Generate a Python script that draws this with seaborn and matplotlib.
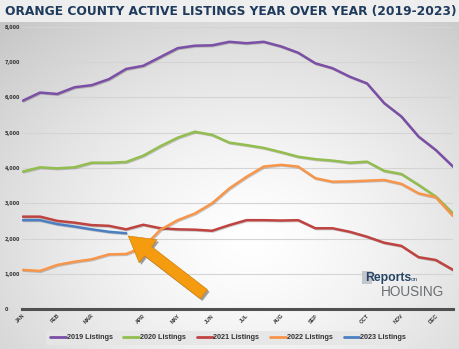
import numpy as np
import pandas as pd
import matplotlib
matplotlib.use("Agg")
import matplotlib.pyplot as plt
import matplotlib.patheffects as pe
from matplotlib.patches import FancyArrowPatch, Rectangle
from matplotlib.ticker import FuncFormatter
import seaborn as sns

# ---------------- data ----------------
periods = list(range(26))  # bi-weekly reporting periods
month_labels = ["JAN", "FEB", "MAR", "APR", "MAY", "JUN", "JUL", "AUG", "SEP", "OCT", "NOV", "DEC"]
month_periods = [0, 2, 4, 7, 9, 11, 13, 15, 17, 20, 22, 24]

listings_2019 = [5910, 6140, 6100, 6290, 6350, 6520, 6810, 6900, 7150, 7400, 7470, 7480, 7580,
                 7540, 7580, 7450, 7270, 6970, 6830, 6590, 6400, 5840, 5460, 4890, 4510, 4040]
listings_2020 = [3900, 4020, 3990, 4020, 4150, 4150, 4170, 4350, 4620, 4860, 5030, 4940, 4720,
                 4650, 4570, 4450, 4320, 4250, 4210, 4150, 4180, 3920, 3830, 3520, 3190, 2710]
listings_2021 = [2620, 2620, 2500, 2450, 2380, 2360, 2260, 2390, 2290, 2260, 2250, 2220, 2380,
                 2520, 2520, 2510, 2520, 2290, 2290, 2190, 2050, 1880, 1790, 1470, 1390, 1110]
listings_2022 = [1110, 1080, 1250, 1340, 1410, 1550, 1560, 1750, 2250, 2520, 2710, 3000, 3420,
                 3750, 4040, 4090, 4040, 3710, 3610, 3620, 3640, 3660, 3550, 3280, 3170, 2640]
listings_2023 = [2520, 2520, 2410, 2340, 2260, 2190, 2150]

series_names = ["2019 Listings", "2020 Listings", "2021 Listings", "2022 Listings", "2023 Listings"]
series_values = [listings_2019, listings_2020, listings_2021, listings_2022, listings_2023]
series_colors = ["#7B4FA6", "#93BE4F", "#BF4340", "#F7964A", "#4B7FC2"]

title_text = "ORANGE COUNTY ACTIVE LISTINGS YEAR OVER YEAR (2019-2023)"

rows = []
for name, vals in zip(series_names, series_values):
    for p, v in zip(periods, vals):
        rows.append({"period": p, "listings": v, "series": name})
df = pd.DataFrame(rows)

# ---------------- figure ----------------
sns.set_theme(style="white")
plt.rcParams["font.family"] = ["DejaVu Sans"]

W, H = 460, 349
fig = plt.figure(figsize=(W / 100, H / 100), dpi=100)

# background: title band + radial gradient
bg = fig.add_axes([0, 0, 1, 1], zorder=-10)
yy, xx = np.mgrid[0:H, 0:W]
d = np.sqrt(((xx - 250) / 1.25) ** 2 + (yy - 240) ** 2)
val = 1.0 - 0.23 * np.clip(d / 300, 0, 1.3) ** 1.4
img = np.dstack([val, val, val])
band = yy < 22
img[band] = np.array([0.935, 0.935, 0.935])
bg.imshow(img, extent=[0, W, H, 0], aspect="auto", interpolation="bilinear")
bg.set_xlim(0, W)
bg.set_ylim(H, 0)
bg.axis("off")

ax = fig.add_axes([22 / W, 1 - 309 / H, 431 / W, 282 / H])
ax.set_facecolor("none")

sns.lineplot(data=df, x="period", y="listings", hue="series", hue_order=series_names,
             palette=series_colors, linewidth=1.8, ax=ax, legend=True)
for line in ax.get_lines():
    line.set_path_effects([pe.SimpleLineShadow(offset=(0.6, -0.6), shadow_color="k", alpha=0.22),
                           pe.Normal()])
    line.set_solid_joinstyle("round")

ax.set_xlim(-0.05, 25.0)
ax.set_ylim(0, 8000)
ax.set_yticks(range(0, 8001, 1000))
ax.yaxis.set_major_formatter(FuncFormatter(lambda v, p: f"{int(v):,}"))
ax.grid(axis="y", color="#d4d4d4", linewidth=0.8)
ax.grid(axis="x", visible=False)
for s in ["top", "right", "left"]:
    ax.spines[s].set_visible(False)
ax.spines["bottom"].set_color("#505050")
ax.spines["bottom"].set_linewidth(2.2)
ax.spines["bottom"].set_zorder(5)

ax.tick_params(axis="both", length=0)
ax.tick_params(axis="y", pad=12.5, labelsize=3.5, labelcolor="#333333")
for lab in ax.get_yticklabels():
    lab.set_ha("left")
    lab.set_fontweight("bold")

ax.set_xticks(month_periods)
ax.set_xticklabels(month_labels, rotation=45, ha="right", rotation_mode="anchor",
                   fontsize=3.8, fontweight="bold", color="#333333",
                   family=["Liberation Sans", "DejaVu Sans"])
ax.tick_params(axis="x", pad=3)
ax.set_xlabel("")
ax.set_ylabel("")

# legend
handles, labels = ax.get_legend_handles_labels()
ax.get_legend().remove()
leg = fig.legend(handles, labels, loc="center", bbox_to_anchor=(228 / W, 1 - 337.7 / H),
                 ncol=5, frameon=True, handlelength=2.2, handletextpad=0.1,
                 columnspacing=1.5, borderpad=0.5, fancybox=False,
                 prop={"family": ["Liberation Sans", "DejaVu Sans"], "weight": "bold", "size": 5.2})
leg.get_frame().set_facecolor("#e6e6e6")
leg.get_frame().set_edgecolor("none")
leg.get_frame().set_alpha(0.9)
for t in leg.get_texts():
    t.set_color("#333333")
for h in leg.get_lines():
    h.set_linewidth(2.0)
    h.set_path_effects([])

# title
fig.text(231 / W, 1 - 11 / H, title_text, ha="center", va="center", fontsize=8.8,
         fontweight="bold", color="#1E3A5C")

# annotation arrow pointing to the 2023 series
arrow = FancyArrowPatch((10.65, 370), (6.0, 2120), transform=ax.transData,
                        arrowstyle="simple,head_length=0.9,head_width=1.05,tail_width=0.42",
                        mutation_scale=20, facecolor="#F59B10", edgecolor="#c77a05",
                        linewidth=0.4, zorder=6, clip_on=False)
arrow.set_path_effects([pe.SimplePatchShadow(offset=(1.5, -1.5), shadow_rgbFace="k", alpha=0.4),
                        pe.Normal()])
ax.add_patch(arrow)

# logo
fig.patches.append(Rectangle((362 / W, 1 - 284 / H), 10 / W, 13 / H, transform=fig.transFigure,
                             facecolor="#c3c6ca", edgecolor="none", zorder=3))
fig.text(365 / W, 1 - 277.5 / H, "Reports", ha="left", va="center", fontsize=8.8,
         color="#264566", fontweight="bold", family=["Liberation Sans", "DejaVu Sans"], zorder=4)
fig.text(411 / W, 1 - 279.5 / H, "on", ha="left", va="center", fontsize=4.6,
         color="#264566", family=["Liberation Sans", "DejaVu Sans"], zorder=4)
fig.text(381 / W, 1 - 292 / H, "HOUSING", ha="left", va="center", fontsize=9.8,
         color="#6b6e72", family=["Liberation Sans", "DejaVu Sans"], zorder=4)

fig.savefig("out.png", dpi=100)
